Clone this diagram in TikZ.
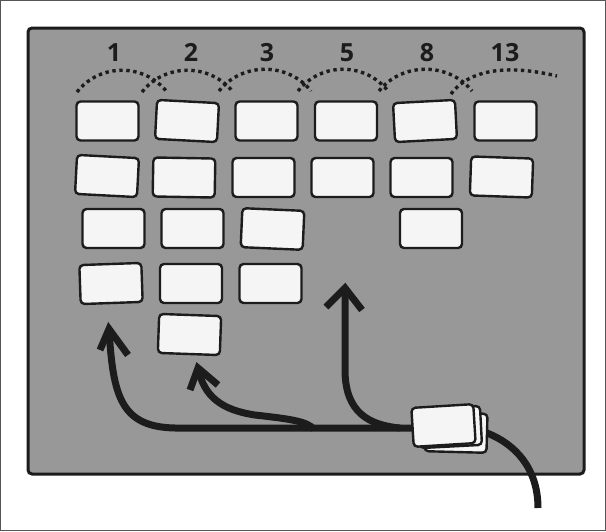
\documentclass[tikz,border=0pt]{standalone}
\usepackage{fontspec}
\setmainfont{Open Sans}
\definecolor{ink}{HTML}{1C1C1C}
\definecolor{boardgray}{HTML}{989898}
\definecolor{cardfill}{HTML}{F5F5F5}
\definecolor{framegray}{HTML}{555555}

\begin{document}
\begin{tikzpicture}[x=1pt,y=-1pt,
  card/.style={draw=ink, fill=cardfill, line width=2.4pt, rounded corners=4pt,
    minimum width=62pt, minimum height=39pt, inner sep=0pt},
  value/.style={font=\fontsize{25}{30}\selectfont\bfseries, text=ink, anchor=base, inner sep=0pt},
  dotarc/.style={draw=ink, line width=3.4pt, dash pattern=on 3.4pt off 3.6pt},
  flow/.style={draw=ink, line width=7pt},
  barb/.style={flow, line join=miter, miter limit=10}]

\useasboundingbox (0,0) rectangle (606,531);

% frame and board
\draw[framegray, line width=1pt] (0.5,0.5) rectangle (605.5,530.5);
\draw[ink, fill=boardgray, line width=3pt, rounded corners=4pt] (28,28) rectangle (584,474);

% column values
\node[value] (v1)  at (114,61) {1};
\node[value] (v2)  at (191,61) {2};
\node[value] (v3)  at (267,61) {3};
\node[value] (v5)  at (347,61) {5};
\node[value] (v8)  at (427,61) {8};
\node[value] (v13) at (505,61) {13};

% dotted ranges between neighbouring columns
\draw[dotarc] (77,92)  .. controls (100,63) and (144,63) .. (167,92);
\draw[dotarc] (142,92) .. controls (165,63) and (210,63) .. (233,92);
\draw[dotarc] (219,91) .. controls (242,62) and (288,62) .. (311,91);
\draw[dotarc] (298,91) .. controls (321,62) and (365,62) .. (388,91);
\draw[dotarc] (379,91) .. controls (402,62) and (449,62) .. (472,91);
\draw[dotarc] (451,94) .. controls (472,66) and (515,66) .. (557,76);

% cards on the board
\node[card] (c11) at (107.5,121) {};
\node[card, rotate=-3] (c12) at (187,121) {};
\node[card] (c13) at (266.5,121) {};
\node[card] (c14) at (346,121) {};
\node[card, rotate=3] (c15) at (425,121) {};
\node[card] (c16) at (505.5,121) {};

\node[card, rotate=-3] (c21) at (107,176) {};
\node[card, rotate=-1] (c22) at (184,177.5) {};
\node[card] (c23) at (263.5,177.5) {};
\node[card] (c24) at (342.5,177.5) {};
\node[card] (c25) at (421.5,177.5) {};
\node[card, rotate=-2] (c26) at (501.5,177) {};

\node[card] (c31) at (113.5,228.5) {};
\node[card] (c32) at (192.5,228.5) {};
\node[card, rotate=-2.5] (c33) at (272.5,229) {};
\node[card] (c35) at (431,228.5) {};

\node[card, rotate=2] (c41) at (111,283.5) {};
\node[card] (c42) at (191,283.5) {};
\node[card] (c43) at (270.5,283.5) {};

\node[card, rotate=-2] (c52) at (189.5,334.5) {};

% flow points
\coordinate (hub) at (430,428);
\coordinate (j2) at (314,429);
\coordinate (j3) at (400,428);
\coordinate (t1) at (109,329);
\coordinate (b1l) at (100,350);
\coordinate (b1r) at (128,355);
\coordinate (t2) at (198,368);
\coordinate (b2l) at (190,390);
\coordinate (b2r) at (218,385);
\coordinate (t3) at (345,288);
\coordinate (b3l) at (326,307);
\coordinate (b3r) at (362,310);
\coordinate (tailstart) at (470,433);
\coordinate (tailend) at (538,508);

% incoming line and branches
\draw[flow] (tailstart) -- (487,433) .. controls (515,444) and (538,468) .. (tailend);
\draw[flow] (hub) -- (175,428) .. controls (120,427) and (113,395) .. (t1);
\draw[flow] (j2) .. controls (306,421) and (290,419) .. (255,415)
                 .. controls (222,410) and (204,397) .. (t2);
\draw[flow] (j3) .. controls (368,425) and (346,412) .. (345,372) -- (t3);
\draw[barb] (b1l) -- (t1) -- (b1r);
\draw[barb] (b2l) -- (t2) -- (b2r);
\draw[barb] (b3l) -- (t3) -- (b3r);

% stack of new cards
\node[card, rotate=-1.5] (sC) at (456,432.5) {};
\node[card, rotate=3] (sB) at (450,427) {};
\node[card, rotate=3.5] (sA) at (443.5,425.5) {};
\end{tikzpicture}
\end{document}
